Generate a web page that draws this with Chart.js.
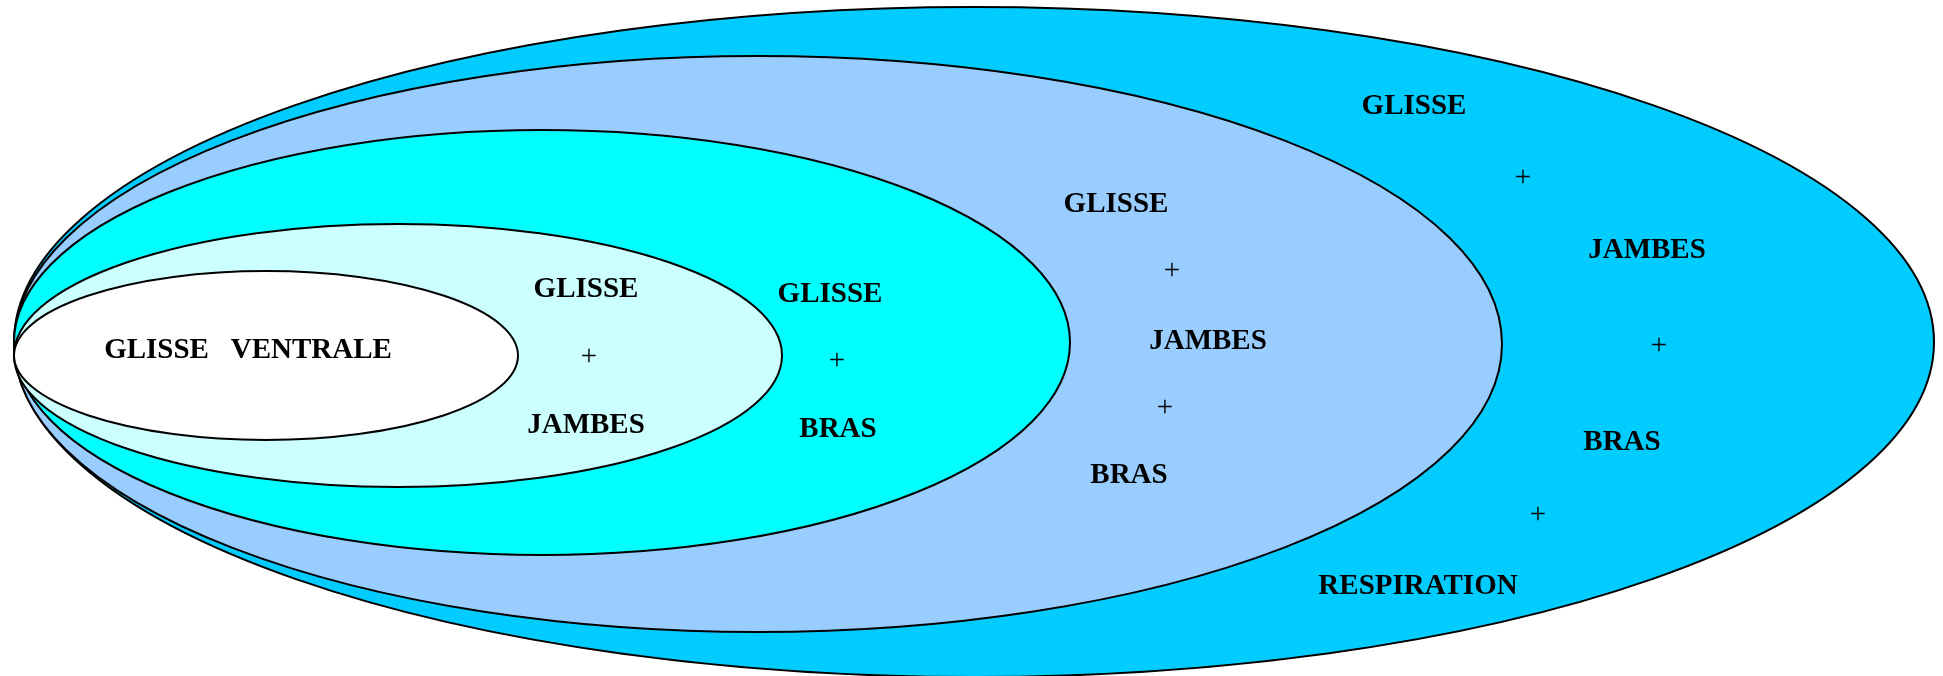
<!DOCTYPE html>
<html>
<head>
<meta charset="utf-8">
<script src="https://cdn.jsdelivr.net/npm/chart.js@4"></script>
<style>
  html, body { margin: 0; padding: 0; background: #ffffff; overflow: hidden; }
  canvas { display: block; }
</style>
</head>
<body>
<canvas id="nested" width="1943" height="676"></canvas>
<script>
// nested ellipses, outermost first (data units = pixels of the original slide)
const ellipseCx = [974, 758, 542, 398, 266];
const ellipseCy = [342, 344, 342.5, 355.5, 355.5];
const ellipseRx = [960, 744, 528, 384, 252];
const ellipseRy = [335, 288, 212.5, 131.5, 84.5];
const ellipseColors = ["#00CCFF", "#99CCFF", "#00FFFF", "#CCFFFF", "#FFFFFF"];

// text labels (visual centre)
const labelText = [
  "GLISSE   VENTRALE",
  "GLISSE", "+", "JAMBES",
  "GLISSE", "+", "BRAS",
  "GLISSE", "+", "JAMBES", "+", "BRAS",
  "GLISSE", "+", "JAMBES", "+", "BRAS", "+", "RESPIRATION"
];
const labelX = [
  248,
  586, 589, 586,
  830, 837, 838,
  1116, 1172, 1208, 1165, 1129,
  1414, 1523, 1647, 1659, 1622, 1538, 1418
];
const labelY = [
  348,
  287, 358, 423,
  292, 362, 427,
  202, 272, 339, 409, 473,
  104, 179, 248, 347, 440, 516, 584
];

const FONT = '"Liberation Serif", "Times New Roman", serif';

const ellipsePlugin = {
  id: "ellipses",
  beforeDatasetsDraw(chart) {
    const ctx = chart.ctx;
    const xs = chart.scales.x;
    const ys = chart.scales.y;
    ctx.save();
    for (let i = 0; i < ellipseCx.length; i++) {
      const px = xs.getPixelForValue(ellipseCx[i]);
      const py = ys.getPixelForValue(ellipseCy[i]);
      const rx = Math.abs(xs.getPixelForValue(ellipseCx[i] + ellipseRx[i]) - px);
      const ry = Math.abs(ys.getPixelForValue(ellipseCy[i] + ellipseRy[i]) - py);
      ctx.beginPath();
      ctx.ellipse(px, py, rx, ry, 0, 0, Math.PI * 2);
      ctx.fillStyle = ellipseColors[i];
      ctx.fill();
      ctx.lineWidth = 2;
      ctx.strokeStyle = "#000000";
      ctx.stroke();
    }
    ctx.restore();
  },
  afterDatasetsDraw(chart) {
    const ctx = chart.ctx;
    const meta = chart.getDatasetMeta(0);
    ctx.save();
    ctx.fillStyle = "#000000";
    ctx.textAlign = "center";
    ctx.textBaseline = "alphabetic";
    meta.data.forEach((pt, i) => {
      const t = labelText[i];
      if (t === "+") {
        ctx.font = "29px " + FONT;
        ctx.fillText(t, pt.x, pt.y + 29 * 0.25);
      } else {
        ctx.font = "bold 29px " + FONT;
        ctx.fillText(t, pt.x, pt.y + 29 * 0.33);
      }
    });
    ctx.restore();
  }
};

new Chart(document.getElementById("nested"), {
  type: "scatter",
  data: {
    datasets: [{
      data: labelX.map((x, i) => ({ x: x, y: labelY[i] })),
      pointRadius: 0,
      pointHoverRadius: 0
    }]
  },
  options: {
    responsive: false,
    animation: false,
    events: [],
    layout: { padding: 0 },
    plugins: { legend: { display: false }, tooltip: { enabled: false } },
    scales: {
      x: { type: "linear", min: 0, max: 1943, display: false },
      y: { type: "linear", min: 0, max: 676, reverse: true, display: false }
    }
  },
  plugins: [ellipsePlugin]
});
</script>
</body>
</html>
